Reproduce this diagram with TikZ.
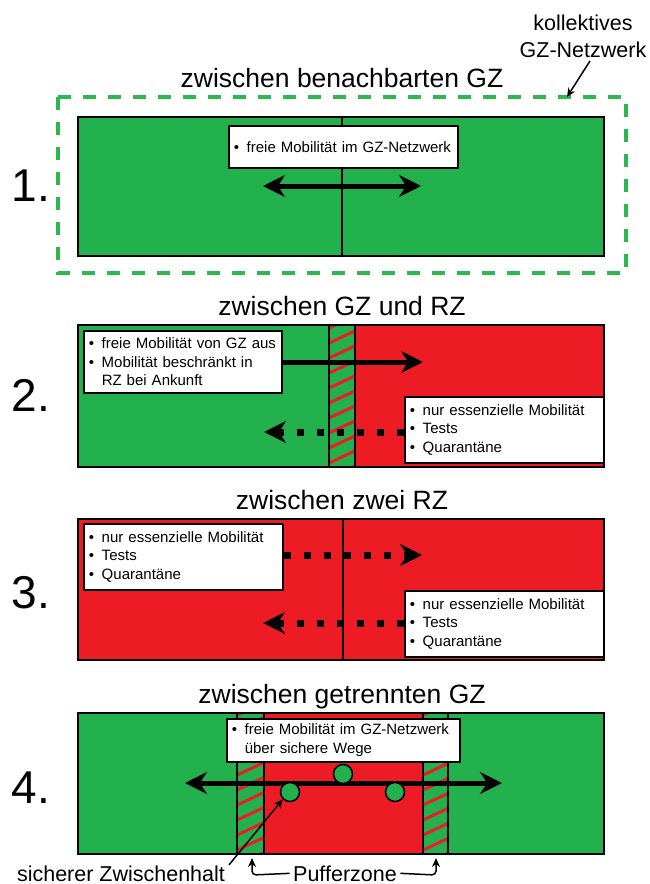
\documentclass[tikz,border=0pt]{standalone}
\usepackage{fontspec}
\setmainfont{Liberation Sans}
\usetikzlibrary{arrows.meta}

\definecolor{gzgreen}{HTML}{22B14C}
\definecolor{rzred}{HTML}{ED1C24}
\definecolor{netgreen}{HTML}{2DB84D}

\newcommand{\itm}{\makebox[13pt][l]{\textbullet}}
\newcommand{\cnt}{\hspace*{13pt}}

% Pufferstreifen: x1, y1, x2, y2 (y nach unten)
\newcommand{\pufferstreifen}[4]{%
  \fill[gzgreen] (#1,#2) rectangle (#3,#4);
  \begin{scope}
    \clip (#1,#2) rectangle (#3,#4);
    \foreach \k in {0,...,11}
      \draw[rzred,line width=3pt] ({#1-2},{#4+12-\k*15}) -- ++(32,-15);
  \end{scope}
  \draw[line width=1.5pt] (#1,#2) -- (#1,#4) (#3,#2) -- (#3,#4);
}

\tikzset{
  zone/.style={draw=black,line width=2pt},
  infobox/.style={draw=black,line width=1.5pt,fill=white,anchor=north west,align=left,
    font=\fontsize{15}{18.5}\selectfont,inner xsep=5pt,inner ysep=3pt},
  heading/.style={font=\fontsize{26.5}{30}\selectfont,anchor=base},
  panelno/.style={font=\fontsize{46}{50}\selectfont,anchor=base west},
  note/.style={font=\fontsize{21.5}{27}\selectfont,align=center},
  freeway/.style={line width=5pt,{Stealth[length=22pt,width=22pt]}-{Stealth[length=22pt,width=22pt]}},
  oneway/.style={line width=5pt,-{Stealth[length=22pt,width=22pt]}},
  dotway/.style={line width=7pt,dash pattern=on 7pt off 13pt,-{Stealth[length=22pt,width=22pt]}},
  pointer/.style={line width=1.5pt,-{Stealth[length=9pt,width=8pt]}},
  halt/.style={circle,draw=black,line width=1.5pt,fill=gzgreen,minimum size=19pt,inner sep=0pt},
}

\begin{document}
\begin{tikzpicture}[x=1pt,y=-1pt]
\useasboundingbox (0,0) rectangle (649,884);

% 1. zwischen benachbarten GZ
\node[heading] (t1) at (342,87) {zwischen benachbarten GZ};
\node[panelno] (n1) at (8,201) {1.};
\draw[netgreen,line width=4.5pt,dash pattern=on 13pt off 12pt] (58,97) rectangle (626,273);
\node[note] (net) at (583,36) {kollektives\\GZ-Netzwerk};
\coordinate (netend) at (567,97);
\draw[pointer] (net.south) ++(7,0) -- (netend);
\fill[gzgreen] (78,117) rectangle (604,256);
\draw[line width=1.5pt] (342,117) -- (342,256);
\draw[zone] (78,117) rectangle (604,256);
\node[infobox,text width=219pt,minimum height=42pt] (b1) at (228,125) {\itm freie Mobilität im GZ-Netzwerk};
\coordinate (a1l) at (263,186);
\coordinate (a1r) at (421,186);
\draw[freeway] (a1l) -- (a1r);

% 2. zwischen GZ und RZ
\node[heading] (t2) at (342,315) {zwischen GZ und RZ};
\node[panelno] (n2) at (8,411) {2.};
\fill[gzgreen] (78,325) rectangle (604,467);
\fill[rzred] (355,325) rectangle (604,467);
\pufferstreifen{329}{325}{355}{467}
\draw[zone] (78,325) rectangle (604,467);
\node[infobox,text width=188pt,minimum height=62pt] (b2l) at (83,330)
  {\itm freie Mobilität von GZ aus\\ \itm Mobilität beschränkt in\\ \cnt RZ bei Ankunft};
\node[infobox,text width=189pt,minimum height=66pt] (b2r) at (404,396)
  {\itm nur essenzielle Mobilität\\ \itm Tests\\ \itm Quarantäne};
\coordinate (a2r) at (423,362);
\coordinate (a2l) at (264,432);
\draw[oneway] (b2l.east |- a2r) -- (a2r);
\draw[dotway] (b2r.west |- a2l) -- (a2l);

% 3. zwischen zwei RZ
\node[heading] (t3) at (342,509) {zwischen zwei RZ};
\node[panelno] (n3) at (8,608) {3.};
\fill[rzred] (78,519) rectangle (604,660);
\draw[line width=1.5pt] (343,519) -- (343,660);
\draw[zone] (78,519) rectangle (604,660);
\node[infobox,text width=189pt,minimum height=66pt] (b3l) at (83,523)
  {\itm nur essenzielle Mobilität\\ \itm Tests\\ \itm Quarantäne};
\node[infobox,text width=189pt,minimum height=66pt] (b3r) at (404,590)
  {\itm nur essenzielle Mobilität\\ \itm Tests\\ \itm Quarantäne};
\coordinate (a3r) at (422,555);
\coordinate (a3l) at (263,623);
\draw[dotway] (b3l.east |- a3r) -- (a3r);
\draw[dotway] (b3r.west |- a3l) -- (a3l);

% 4. zwischen getrennten GZ
\node[heading] (t4) at (342,703) {zwischen getrennten GZ};
\node[panelno] (n4) at (8,803) {4.};
\fill[gzgreen] (78,713) rectangle (604,854);
\fill[rzred] (264,713) rectangle (423,854);
\pufferstreifen{237}{713}{264}{854}
\pufferstreifen{423}{713}{448}{854}
\draw[zone] (78,713) rectangle (604,854);
\node[infobox,text width=223pt,minimum height=43pt] (b4) at (226,718)
  {\itm freie Mobilität im GZ-Netzwerk\\ \cnt über sichere Wege};
\coordinate (a4l) at (185,783);
\coordinate (a4r) at (502,783);
\draw[freeway] (a4l) -- (a4r);
\node[halt] (h1) at (290,792) {};
\node[halt] (h2) at (343,774) {};
\node[halt] (h3) at (395,792) {};

% Beschriftung unten
\node[note,anchor=base] (zh) at (121,881) {sicherer Zwischenhalt};
\draw[pointer] (zh.north -| 229,0) ++(0,3) -- (h1.south west);
\node[note,anchor=base] (pz) at (345,881) {Pufferzone};
\draw[pointer,rounded corners=4pt] (pz.west) -- (252,875) -- (252,858);
\draw[pointer,rounded corners=4pt] (pz.east) -- (436,875) -- (436,858);
\end{tikzpicture}
\end{document}
